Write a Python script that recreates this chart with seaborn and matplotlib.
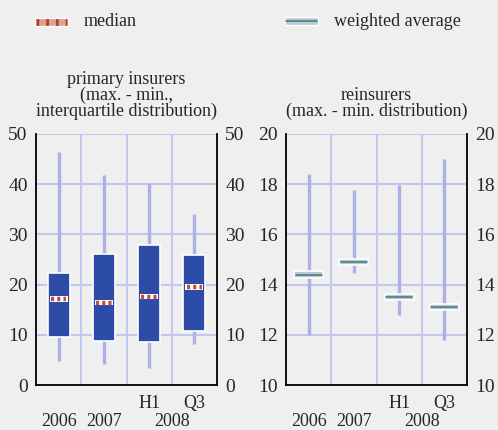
import matplotlib
matplotlib.use("Agg")
import matplotlib.pyplot as plt
from matplotlib.patches import Rectangle
from matplotlib.lines import Line2D
from matplotlib.transforms import blended_transform_factory
import numpy as np
import pandas as pd
import seaborn as sns

# ---- data ----
periods = ["2006", "2007", "H1 2008", "Q3 2008"]
top_labels = ["", "", "H1", "Q3"]
year_labels = ["2006", "2007", "2008"]

# primary insurers: min, first quartile, median, third quartile, max (%)
prim_min = [4.8, 4.1, 3.3, 8.1]
prim_q1 = [9.5, 8.8, 8.6, 10.7]
prim_median = [17.1, 16.4, 17.6, 19.5]
prim_q3 = [22.4, 26.1, 27.9, 25.8]
prim_max = [46.4, 41.9, 40.3, 34.1]

# reinsurers: min, weighted average, max (%)
re_min = [12.0, 14.45, 12.8, 11.8]
re_wavg = [14.4, 14.9, 13.5, 13.1]
re_max = [18.4, 17.75, 17.95, 19.0]

# ---- style ----
BG = "#efefef"
BOX = "#2c4ca8"
WHISK = "#abb0e6"
GRID = "#c3c7ee"
MED_FILL = "#ffffff"
MED_LINE = "#c0503c"
AVG_FILL = "#b9c9d1"
AVG_LINE = "#4f7d8a"

sns.set_style("white")
plt.rcParams["font.family"] = ["Liberation Serif", "DejaVu Serif"]
plt.rcParams["font.size"] = 13

fig = plt.figure(figsize=(4.98, 4.30), dpi=100, facecolor=BG)
W, H = 498, 430


def px_axes(x0, x1, ytop, ybot):
    return fig.add_axes([x0 / W, 1 - ybot / H, (x1 - x0) / W, (ybot - ytop) / H])


ax1 = px_axes(36, 217, 134, 385)
ax2 = px_axes(286, 467, 134, 385)

prim = pd.DataFrame({"period": periods, "q1": prim_q1, "iqr": np.subtract(prim_q3, prim_q1)})


def frame(ax, ylim, step):
    ax.set_facecolor(BG)
    ax.set_xlim(-0.5, 3.5)
    ax.set_ylim(*ylim)
    ticks = np.arange(ylim[0], ylim[1] + 0.01, step)
    ax.set_yticks(ticks)
    ax.set_yticklabels([f"{t:g}" for t in ticks])
    ax.tick_params(axis="y", length=0, labelsize=14, pad=6,
                   left=True, right=True, labelleft=True, labelright=True)
    for t in ticks:
        ax.axhline(t, color=GRID, lw=1.5, zorder=0.5)
    for b in (0.5, 1.5, 2.5):
        ax.axvline(b, color=GRID, lw=1.5, zorder=0.5)
    ax.spines["top"].set_visible(False)
    for s in ("left", "right", "bottom"):
        ax.spines[s].set_color("black")
        ax.spines[s].set_linewidth(1.3)
    # tick marks at category boundaries, labels at category centres
    ax.set_xticks([-0.5, 0.5, 1.5, 2.5, 3.5])
    ax.set_xticklabels([])
    ax.tick_params(axis="x", which="major", direction="out", length=7, width=1.5, color="black")
    ax.set_xticks(range(4), minor=True)
    ax.set_xticklabels(top_labels, minor=True)
    ax.tick_params(axis="x", which="minor", length=0, labelsize=13, pad=7)
    trans = blended_transform_factory(ax.transData, ax.transAxes)
    for xpos, lab in zip([0, 1, 2.5], year_labels):
        ax.text(xpos, -0.11, lab, transform=trans, ha="center", va="top", fontsize=13)
    ax.set_xlabel("")
    ax.set_ylabel("")


# ---- primary insurers ----
frame(ax1, (0, 50), 10)
ax1.vlines(range(4), prim_min, prim_max, color=WHISK, lw=2.4, zorder=1)
sns.barplot(data=prim, x="period", y="iqr", bottom=prim["q1"], ax=ax1,
            color=BOX, saturation=1, width=0.49, edgecolor="white", linewidth=1.2,
            zorder=2, order=periods)
ax1.set_xlim(-0.5, 3.5)
ax1.set_ylim(0, 50)
ax1.set_xlabel("")
ax1.set_ylabel("")
mw = 0.40
for i, m in enumerate(prim_median):
    ax1.add_patch(Rectangle((i - mw / 2, m - 0.55), mw, 1.1, facecolor=MED_FILL,
                            edgecolor="none", zorder=3))
    ax1.plot([i - mw / 2 + 0.03, i + mw / 2 - 0.03], [m, m], color=MED_LINE, lw=3.2,
             dashes=(0.7, 0.7), solid_capstyle="butt", zorder=4)

# ---- reinsurers ----
frame(ax2, (10, 20), 2)
ax2.vlines(range(4), re_min, re_max, color=WHISK, lw=2.4, zorder=1)
aw = 0.64
for i, a in enumerate(re_wavg):
    ax2.add_patch(Rectangle((i - aw / 2, a - 0.13), aw, 0.26, facecolor=AVG_FILL,
                            edgecolor="white", lw=1.2, zorder=3))
    ax2.plot([i - aw / 2 + 0.03, i + aw / 2 - 0.03], [a, a], color=AVG_LINE, lw=1.2,
             zorder=4)

# ---- titles ----
ax1.set_title("primary insurers\n(max. - min.,\ninterquartile distribution)",
              fontsize=13, linespacing=0.92, pad=13)
ax2.set_title("reinsurers\n(max. - min. distribution)",
              fontsize=13, linespacing=0.92, pad=13)

# ---- legend ----
def fig_rect(x0, y0, w, h, **kw):
    fig.add_artist(Rectangle((x0 / W, 1 - (y0 + h) / H), w / W, h / H,
                             transform=fig.transFigure, **kw))


fig_rect(35, 18, 33, 8, facecolor="#d9a394", edgecolor="white", lw=1)
fig.add_artist(Line2D([36 / W, 67 / W], [1 - 22 / H, 1 - 22 / H], transform=fig.transFigure,
                      color="#b8402e", lw=5, dashes=(0.4, 1.0)))
fig.text(84 / W, 1 - 21 / H, "median", ha="left", va="center", fontsize=13)

fig_rect(285, 17, 33, 8, facecolor=AVG_FILL, edgecolor="white", lw=1)
fig.add_artist(Line2D([286 / W, 317 / W], [1 - 21 / H, 1 - 21 / H], transform=fig.transFigure,
                      color=AVG_LINE, lw=1.2))
fig.text(334 / W, 1 - 21 / H, "weighted average", ha="left", va="center", fontsize=13)

fig.savefig("out.png", dpi=100, facecolor=BG)
